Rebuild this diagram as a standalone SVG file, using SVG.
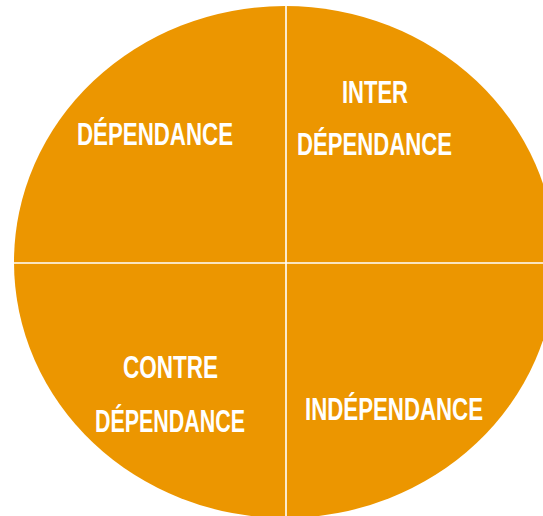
<svg xmlns="http://www.w3.org/2000/svg" width="543" height="516" viewBox="0 0 543 516">
<style>
.lbl{font-family:"Liberation Sans","DejaVu Sans",sans-serif;font-weight:bold;font-size:31px;fill:#ffffff;text-transform:uppercase}
.div{stroke:#ffffff;stroke-width:1.6;fill:none}
</style>
<rect width="543" height="516" fill="#ffffff"/>
<g id="circle">
<ellipse cx="285" cy="262" rx="271" ry="256" fill="#EC9600"/>
</g>
<g id="connectors">
<line class="div" x1="286" y1="5" x2="286" y2="518"/>
<line class="div" x1="13" y1="263" x2="543" y2="263"/>
</g>
<g id="q1">
<text class="lbl" x="77" y="145" textLength="156" lengthAdjust="spacingAndGlyphs">dépendance</text>
</g>
<g id="q2">
<text class="lbl" x="342" y="103" textLength="66" lengthAdjust="spacingAndGlyphs">Inter</text>
<text class="lbl" x="297" y="155" textLength="155" lengthAdjust="spacingAndGlyphs">dépendance</text>
</g>
<g id="q3">
<text class="lbl" x="123" y="378" textLength="95" lengthAdjust="spacingAndGlyphs">Contre</text>
<text class="lbl" x="95" y="432" textLength="150" lengthAdjust="spacingAndGlyphs">dépendance</text>
</g>
<g id="q4">
<text class="lbl" x="305" y="420" textLength="178" lengthAdjust="spacingAndGlyphs">Indépendance</text>
</g>
</svg>
